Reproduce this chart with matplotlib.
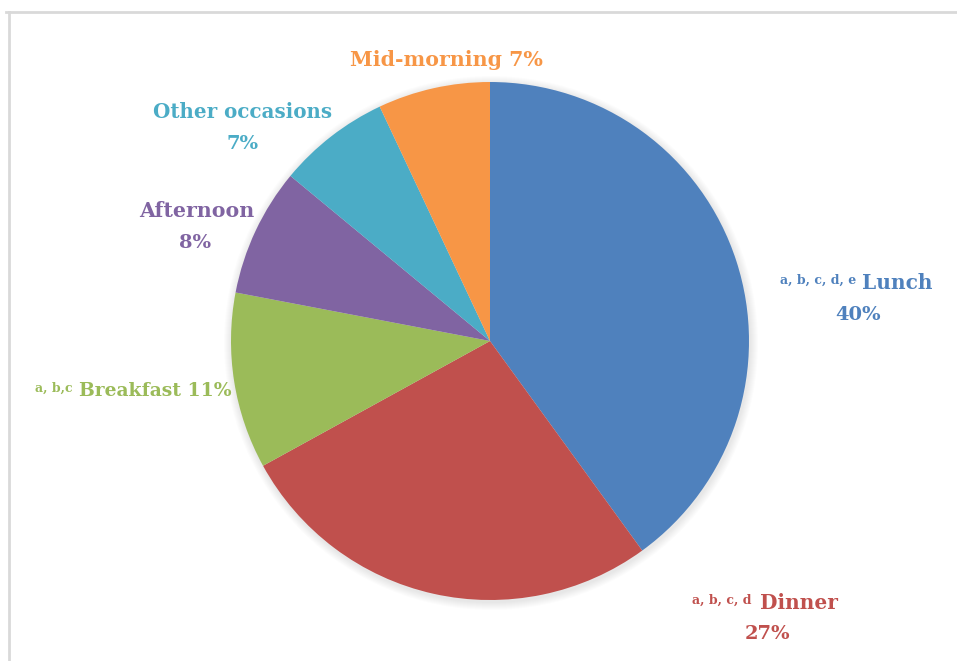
import matplotlib.pyplot as plt
from matplotlib.patches import Circle
from matplotlib.lines import Line2D

# Share of eating occasions (%)
occasions = ['Lunch', 'Dinner', 'Breakfast', 'Afternoon', 'Other occasions', 'Mid-morning']
shares = [40, 27, 11, 8, 7, 7]
notes = ['a, b, c, d, e', 'a, b, c, d', 'a, b,c', '', '', '']
colors = ['#4F81BD', '#C0504D', '#9BBB59', '#8064A2', '#4BACC6', '#F79646']

W, H = 957, 661
fig = plt.figure(figsize=(W / 100, H / 100), dpi=100)
ax = fig.add_axes([0, 0, 1, 1])

cx, cy, r = 490, H - 341, 259

# soft shadow under the pie
for i in range(8):
    ax.add_patch(Circle((cx + 1, cy - 2), r + 8 - i, color='black', alpha=0.012, lw=0, zorder=0))

ax.pie(shares, colors=colors, startangle=90, counterclock=False,
       center=(cx, cy), radius=r, wedgeprops=dict(linewidth=0), frame=True)
ax.set_xlim(0, W)
ax.set_ylim(0, H)
ax.set_aspect('equal')
ax.axis('off')

font = dict(family='DejaVu Serif', fontweight='bold')

def label(x, y, s, c, size=14, ha='center'):
    ax.text(x, H - y, s, color=c, fontsize=size, ha=ha, va='center', **font)

# Lunch
label(897, 283, occasions[0], colors[0], size=14.5)
label(856, 280, notes[0], colors[0], size=9, ha='right')
label(858, 315, f'{shares[0]}%', colors[0])
# Dinner
label(799, 603, occasions[1], colors[1], size=14.5)
label(752, 600, notes[1], colors[1], size=9, ha='right')
label(767, 634, f'{shares[1]}%', colors[1])
# Breakfast
label(155, 391, f'{occasions[2]} {shares[2]}%', colors[2], size=13.5)
label(73, 388, notes[2], colors[2], size=9, ha='right')
# Afternoon
label(197, 211, occasions[3], colors[3], size=14.8)
label(195, 243, f'{shares[3]}%', colors[3])
# Other occasions
label(243, 112, occasions[4], colors[4], size=14.3)
label(243, 144, f'{shares[4]}%', colors[4])
# Mid-morning
label(446, 60, f'{occasions[5]} {shares[5]}%', colors[5], size=14.8)

# frame lines along top and left
fig.add_artist(Line2D([6 / W, 1], [1 - 12 / H, 1 - 12 / H], color='#d9d9d9', lw=2))
fig.add_artist(Line2D([9 / W, 9 / W], [0, 1 - 12 / H], color='#d9d9d9', lw=2))

fig.savefig('out.png', dpi=100, facecolor='white')
